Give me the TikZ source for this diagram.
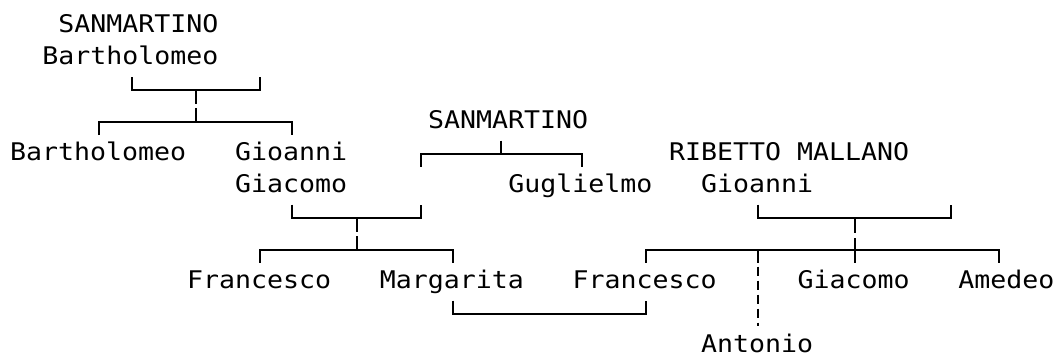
\documentclass[tikz,border=0pt]{standalone}
\usepackage{fontspec}
\newfontfamily\treefont[FakeStretch=1.094]{DejaVu Sans Mono}
\begin{document}
\begin{tikzpicture}[x=1pt,y=-1pt,
  person/.style={anchor=base west, inner sep=0pt, font=\treefont\fontsize{24.3}{29}\selectfont},
  link/.style={line width=2pt, line cap=butt, line join=miter},
  dashlink/.style={link, dash pattern=on 9pt off 5pt}]
\useasboundingbox (0,0) rectangle (1058,356);
% persons
\node[person] (sanA)  at (58.2,32)  {SANMARTINO};
\node[person] (barA)  at (42.1,64)  {Bartholomeo};
\node[person] (barB)  at (10,160)   {Bartholomeo};
\node[person] (gioA1) at (235.0,160) {Gioanni};
\node[person] (gioA2) at (235.0,192) {Giacomo};
\node[person] (sanB)  at (427.8,128) {SANMARTINO};
\node[person] (gug)   at (508.2,192) {Guglielmo};
\node[person] (rib)   at (668.9,160) {RIBETTO MALLANO};
\node[person] (gioB)  at (701.0,192) {Gioanni};
\node[person] (fraA)  at (186.8,288) {Francesco};
\node[person] (mar)   at (379.6,288) {Margarita};
\node[person] (fraB)  at (572.5,288) {Francesco};
\node[person] (gia)   at (797.4,288) {Giacomo};
\node[person] (ame)   at (958.1,288) {Amedeo};
\node[person] (ant)   at (701.0,352) {Antonio};
% bracket 1: Bartholomeo's parents and children
\coordinate (p1l) at (131.5,77);
\coordinate (p1r) at (260.1,77);
\coordinate (p1s) at (195.8,90);
\coordinate (c1s) at (195.8,122);
\coordinate (c1l) at (99.4,135);
\coordinate (c1r) at (292.2,135);
\draw[link] (p1l) -- ++(0,13) -| (p1r);
\draw[link] (p1s) -- ++(0,14);
\draw[link] (c1s) -- ++(0,-14);
\draw[link] (c1l) -- ++(0,-13) -| (c1r);
% bracket 2: SANMARTINO children
\coordinate (p2s) at (501.1,140.5);
\coordinate (c2l) at (420.8,166.5);
\coordinate (c2r) at (581.5,166.5);
\draw[link] (p2s) -- ++(0,13);
\draw[link] (c2l) -- ++(0,-13) -| (c2r);
% bracket 3: Gioanni Giacomo + SANMARTINO
\coordinate (p3l) at (292.2,204.5);
\coordinate (p3r) at (420.8,204.5);
\coordinate (p3s) at (356.5,217.5);
\coordinate (c3s) at (356.5,249.5);
\coordinate (c3l) at (260.1,262.5);
\coordinate (c3r) at (452.9,262.5);
\draw[link] (p3l) -- ++(0,13) -| (p3r);
\draw[link] (p3s) -- ++(0,14);
\draw[link] (c3s) -- ++(0,-14);
\draw[link] (c3l) -- ++(0,-13) -| (c3r);
% bracket 4: RIBETTO MALLANO Gioanni
\coordinate (p4l) at (758.2,204.5);
\coordinate (p4r) at (951.1,204.5);
\coordinate (p4s) at (854.6,217.5);
\coordinate (c4m) at (854.6,262.5);
\coordinate (c4l) at (645.7,262.5);
\coordinate (c4r) at (999.3,262.5);
\coordinate (c4a) at (758.2,249.5);
\coordinate (c4e) at (758.2,326);
\draw[link] (p4l) -- ++(0,13) -| (p4r);
\draw[link] (p4s) -- ++(0,15.5);
\draw[link] (c4m) -- ++(0,-25);
\draw[link] (c4l) -- ++(0,-13) -| (c4r);
\draw[link] (c4a) -- ++(0,13);
\draw[dashlink] (c4a) ++(0,13) ++(0,4) -- (c4e);
% bracket 5: marriage Margarita - Francesco
\coordinate (m5l) at (452.9,300.5);
\coordinate (m5r) at (645.7,300.5);
\draw[link] (m5l) -- ++(0,13) -| (m5r);
\end{tikzpicture}
\end{document}
